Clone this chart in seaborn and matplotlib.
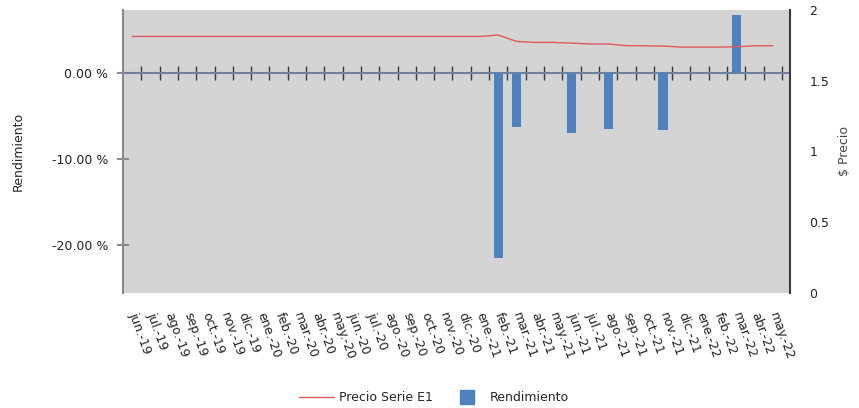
import matplotlib
matplotlib.use("Agg")
import matplotlib.pyplot as plt
import numpy as np
import pandas as pd
import seaborn as sns
from matplotlib.lines import Line2D
from matplotlib.ticker import FixedLocator, FuncFormatter

sns.set_style("white")
plt.rcParams["font.family"] = ["DejaVu Sans"]

# meses jun.-19 .. may.-22
meses = ["jun.-19", "jul.-19", "ago.-19", "sep.-19", "oct.-19", "nov.-19",
         "dic.-19", "ene.-20", "feb.-20", "mar.-20", "abr.-20", "may.-20",
         "jun.-20", "jul.-20", "ago.-20", "sep.-20", "oct.-20", "nov.-20",
         "dic.-20", "ene.-21", "feb.-21", "mar.-21", "abr.-21", "may.-21",
         "jun.-21", "jul.-21", "ago.-21", "sep.-21", "oct.-21", "nov.-21",
         "dic.-21", "ene.-22", "feb.-22", "mar.-22", "abr.-22", "may.-22"]

# rendimiento mensual en %
rendimiento = [0, 0, 0, 0, 0, 0, 0, 0, 0, 0, 0, 0,
               0, 0, 0, 0, 0, 0, 0, 0, -21.5, -6.3, 0, 0,
               -7.0, 0, -6.5, 0, 0, -6.6, 0, 0, 0, 6.7, 0, 0]

# precio de la serie E1
precio = [1.813, 1.813, 1.813, 1.813, 1.813, 1.813, 1.813, 1.813, 1.813,
          1.813, 1.813, 1.813, 1.813, 1.813, 1.813, 1.813, 1.813, 1.813,
          1.813, 1.813, 1.823, 1.778, 1.771, 1.771, 1.766, 1.760, 1.760,
          1.748, 1.747, 1.745, 1.738, 1.738, 1.738, 1.740, 1.747, 1.747]

df = pd.DataFrame({"mes": meses, "rendimiento": rendimiento,
                   "precio": precio, "pos": np.arange(len(meses))})

fig = plt.figure(figsize=(8.59, 4.08), dpi=100)
ax = fig.add_axes([0.1432, 0.2819, 0.9197 - 0.1432, 0.9755 - 0.2819])
ax.set_facecolor("#d4d4d4")

sns.barplot(data=df, x="mes", y="rendimiento", order=meses, color="#4f81bd",
            saturation=1, width=0.5, linewidth=0, ax=ax, zorder=3)

ax.set_xlim(-0.5, 35.94)
ax.set_ylim(-25.6, 7.3)
ax.set_yticks([0, -10, -20])
ax.yaxis.set_major_formatter(FuncFormatter(lambda v, p: f"{v:.2f} %"))
ax.set_ylabel("Rendimiento", fontsize=9)
ax.yaxis.set_label_coords(-0.148, 0.5)
ax.set_xlabel("")

# linea del cero con marcas entre meses
ax.spines["top"].set_position(("data", 0))
ax.spines["top"].set_color("#6e819c")
ax.spines["top"].set_linewidth(1.5)
ax.spines["top"].set_zorder(2)
ax.xaxis.set_minor_locator(FixedLocator(np.arange(0.5, 36, 1)))
ax.tick_params(axis="x", which="minor", top=True, bottom=False,
               direction="inout", length=10, width=1, color="#3a3a3a")
ax.tick_params(axis="x", which="major", length=0, pad=14)
ax.set_xticks(range(len(meses)))
ax.set_xticklabels(meses, rotation=-70, ha="left", va="center",
                   rotation_mode="anchor", fontsize=9, color="#222222")

ax.spines["left"].set_color("#8a8a8a")
ax.spines["left"].set_linewidth(1.5)
ax.spines["bottom"].set_visible(False)
ax.spines["right"].set_visible(False)
ax.tick_params(axis="y", direction="inout", length=9, width=1.5,
               color="#8a8a8a", labelsize=9, labelcolor="#222222", pad=6)

ax2 = ax.twinx()
sns.lineplot(data=df, x="pos", y="precio", color="#e05a5a", linewidth=1,
             ax=ax2)
ax2.set_ylim(0, 2)
ax2.set_yticks([0, 0.5, 1, 1.5, 2])
ax2.set_yticklabels(["0", "0.5", "1", "1.5", "2"])
ax2.tick_params(axis="y", length=0, pad=14, labelsize=9,
                labelcolor="#222222")
ax2.set_ylabel("$ Precio", fontsize=9, color="#444444")
ax2.yaxis.set_label_coords(1.072, 0.5)
ax2.set_xlabel("")
for s in ["top", "left", "bottom"]:
    ax2.spines[s].set_visible(False)
ax2.spines["right"].set_color("#3a3a3a")
ax2.spines["right"].set_linewidth(1.5)

handles = [Line2D([], [], color="#e05a5a", linewidth=1),
           Line2D([], [], color="#4f81bd", marker="s", markersize=10,
                  linestyle="none")]
fig.legend(handles, ["Precio Serie E1", "Rendimiento"], loc="center",
           bbox_to_anchor=(0.505, 0.025), ncol=2, frameon=False,
           fontsize=9, handlelength=2.8, handletextpad=0.4,
           columnspacing=1.3)

fig.savefig("out.png", dpi=100)
